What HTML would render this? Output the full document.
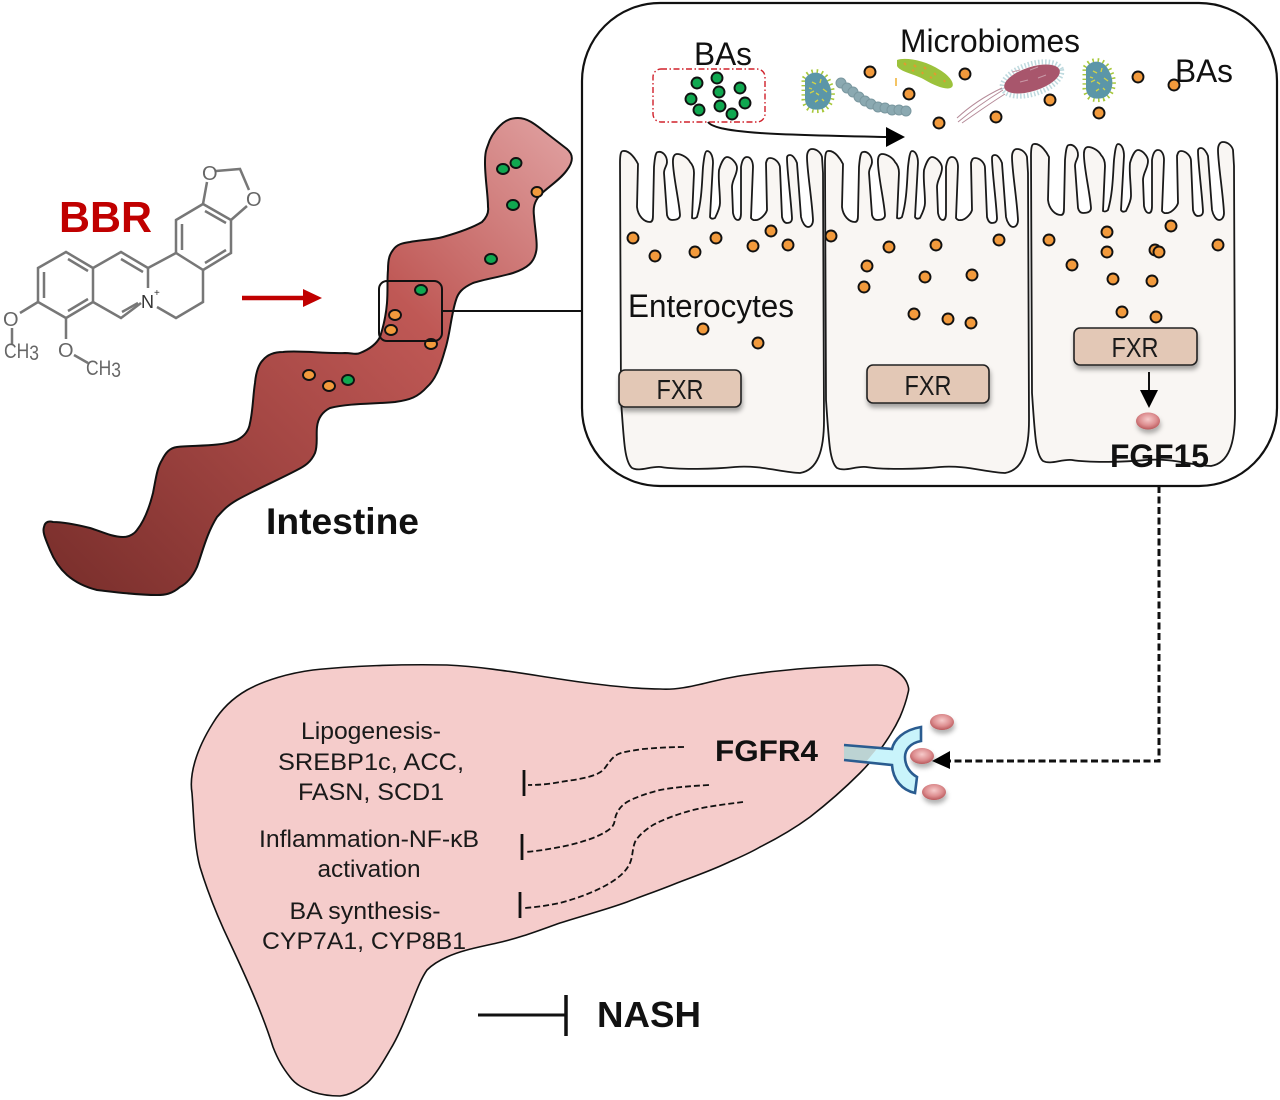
<!DOCTYPE html>
<html>
<head>
<meta charset="utf-8">
<title>BBR diagram</title>
<style>
html,body{margin:0;padding:0;background:#fff;width:1280px;height:1100px;overflow:hidden}
svg{display:block}
text{font-family:"Liberation Sans",sans-serif}
.b{font-weight:bold}
.liv{font-size:24px;fill:#1a1a1a;text-anchor:middle}
.fxr{font-size:28px;fill:#1a1a1a;text-anchor:middle}
.lab{font-size:32px;fill:#111}
.mol{fill:none;stroke:#777;stroke-width:2.5}
.molt{font-size:20px;fill:#666}
.cell{fill:#f9f6f3;stroke:#1a1a1a;stroke-width:1.8}
.o{fill:#f29a3c;stroke:#111;stroke-width:1.9}
.g{fill:#10a850;stroke:#111;stroke-width:1.9}
.fb{fill:#e3c8b6;stroke:#222;stroke-width:1.6;filter:url(#sh)}
.dash{fill:none;stroke:#111;stroke-width:1.8;stroke-dasharray:6 3}
.tb{fill:none;stroke:#111;stroke-width:2.8}
.pk{fill:url(#pink);filter:url(#sh2)}
</style>
</head>
<body>
<svg width="1280" height="1100" viewBox="0 0 1280 1100" xmlns="http://www.w3.org/2000/svg">
<defs>
<linearGradient id="intg" gradientUnits="userSpaceOnUse" x1="90" y1="600" x2="560" y2="130">
<stop offset="0" stop-color="#7c302d"/>
<stop offset=".35" stop-color="#a34643"/>
<stop offset=".65" stop-color="#bf5855"/>
<stop offset="1" stop-color="#df9e9e"/>
</linearGradient>
<radialGradient id="pink" cx=".5" cy=".4" r=".6">
<stop offset="0" stop-color="#f6caca"/>
<stop offset=".6" stop-color="#dd8e90"/>
<stop offset="1" stop-color="#b9595c"/>
</radialGradient>
<filter id="sh" x="-20%" y="-30%" width="140%" height="170%">
<feDropShadow dx="1" dy="4" stdDeviation="2.5" flood-color="#000" flood-opacity=".35"/>
</filter>
<filter id="sh2" x="-50%" y="-50%" width="200%" height="220%">
<feDropShadow dx="1" dy="4" stdDeviation="2.5" flood-color="#000" flood-opacity=".3"/>
</filter>
<path id="c" class="cell" d="M621 400 L620 163 C620 154 621 151 623 151 C630 150 636 160 638 164 L637 207 C638 216 644 222 650 222 C653 222 653 218 653 215 L654 167 C655 155 656 152 658 152 C662 151 667 155 667 162 C667 166 664 168 664 173 L667 215 C668 219 670 220 672 220 C676 220 680 219 680 215 C679 200 672 170 673 160 C673 156 675 154 677 154 C682 154 688 158 690 162 C693 165 694 168 694 173 L692 218 C694 219 696 218 697 217 C702 200 702 180 703 167 C704 158 705 151 707 151 C711 151 713 157 713 163 L710 217 C711 219 713 219 715 218 C717 214 720 208 720 203 C720 190 718 180 719 170 C721 163 724 157 727 157 C731 157 737 163 737 168 C737 175 732 180 732 187 L733 213 C734 218 736 220 738 220 C740 220 741 217 741 213 L741 167 C742 160 744 157 747 157 C751 157 753 162 753 167 L751 218 C753 221 755 220 757 220 C761 219 766 214 767 210 L766 163 C767 159 768 158 770 158 C775 158 780 163 780 168 L782 217 C783 221 785 223 787 223 C791 223 792 221 792 218 C791 200 787 170 787 158 C787 156 788 155 790 155 C793 155 796 160 797 163 L801 217 C802 222 805 227 808 227 C811 227 813 224 813 220 C812 200 807 170 807 157 C807 152 809 149 812 149 C817 149 821 153 822 157 L823 173 L824 420 C824 450 818 470 800 473 C780 472 760 465 735 467 C715 469 680 470 661 467 C650 466 640 472 632 468 C625 462 624 445 621 400 Z"/>
<path id="bs" d="M-13 -12 C-8 -21 5 -21 10 -9 C16 1 14 14 4 18 C-6 20 -12 17 -13 9 Z"/>
<g id="bac">
<use href="#bs" fill="none" stroke="#a7c83a" stroke-width="7" stroke-dasharray="1.4 3.2"/>
<use href="#bs" fill="#5b96a8"/>
<path d="M-6 -9l4 2M3 -12l-1 4M-8 2l4 -2M5 -2l4 3M-3 11l3 -2M6 10l-2 -2M-2 2l3 2M-9 -3l3 1" stroke="#cfd24a" stroke-width="1.4" fill="none"/>
</g>
</defs>

<!-- Molecule -->
<text x="59" y="232" class="b" font-size="44" fill="#c00000" textLength="93" lengthAdjust="spacingAndGlyphs">BBR</text>
<g class="mol">
<path d="M38 268L66 252L93 268L93 302L66 318L38 302Z"/>
<path d="M44 272L44 298M68 259L88 271M88 299L68 311"/>
<path d="M93 268L121 252L148 268L148 288M141 303L121 318L93 302"/>
<path d="M121 259L143 272M138 303L122 312"/>
<path d="M148 268L176 253L203 270L203 302L176 318L157 307"/>
<path d="M176 253L176 220L203 204L231 220L231 253L203 270"/>
<path d="M182 250L182 224M205 211L226 223M226 250L205 263"/>
<path d="M203 204L207 182M216 171L240 169L249 190M247 206L231 220"/>
<path d="M38 302L20 313M66 318L66 339M12 328L12 344M74 355L88 363"/>
</g>
<text x="202" y="180" class="molt">O</text>
<text x="246" y="206" class="molt">O</text>
<text x="141" y="308" font-size="18" fill="#333">N</text>
<text x="154" y="296" font-size="10" fill="#333">+</text>
<text x="3" y="326" class="molt">O</text>
<text x="58" y="357" class="molt">O</text>
<text x="4" y="358" font-size="21" fill="#666" textLength="35" lengthAdjust="spacingAndGlyphs">CH<tspan dy="2">3</tspan></text>
<text x="86" y="375" font-size="21" fill="#666" textLength="35" lengthAdjust="spacingAndGlyphs">CH<tspan dy="2">3</tspan></text>
<path d="M242 298H304" stroke="#c00000" stroke-width="4.5"/>
<path d="M303 289L322 298L303 307Z" fill="#c00000"/>

<!-- Intestine -->
<path d="M518 118 C528 118 536 125 545 132 L567 149 C574 155 573 162 567 170 C560 180 548 187 540 195 C534 202 533 208 534 216 C535 230 538 245 536 252 C534 262 528 268 513 273 C500 277 485 279 473 283 C462 288 458 293 456 300 C451 315 450 335 445 350 C440 368 435 380 427 387 C418 397 410 400 395 402 C375 404 350 403 330 408 C322 412 318 418 317 427 C316 436 318 445 315 453 C311 462 305 466 297 470 C278 480 255 490 237 500 C225 507 222 512 217 517 C207 533 203 550 197 567 C192 578 186 584 180 587 C172 594 165 595 157 595 C135 595 115 592 97 590 C85 587 75 582 67 575 C57 566 52 555 50 550 C46 540 42 532 44 527 C45 521 50 521 53 522 C65 522 78 525 90 528 C100 531 112 537 123 537 C130 537 135 533 137 530 C145 520 150 505 153 493 C156 478 157 468 162 460 C166 452 170 448 177 447 C195 445 220 447 237 440 C245 436 249 430 250 423 C253 410 253 395 255 383 C256 372 259 364 263 360 C268 354 275 352 283 352 C300 350 325 354 345 353 C352 353 356 355 360 353 C370 349 377 343 380 337 C384 325 386 315 387 303 C388 290 387 280 388 270 C388 258 390 254 393 250 C397 244 403 243 410 242 C420 240 432 240 443 237 C457 233 472 228 482 222 C486 218 489 213 488 207 C488 195 485 178 485 163 C485 153 486 150 488 145 C491 135 497 128 503 123 C508 119 513 118 518 118 Z" fill="url(#intg)" stroke="#111" stroke-width="2"/>
<g class="g"><ellipse cx="503" cy="169" rx="6" ry="5"/><ellipse cx="516" cy="163" rx="5.5" ry="5"/><ellipse cx="513" cy="205" rx="6" ry="5"/><ellipse cx="491" cy="259" rx="6" ry="5"/><ellipse cx="421" cy="290" rx="6" ry="5"/><ellipse cx="348" cy="380" rx="6" ry="5"/></g>
<g class="o"><ellipse cx="537" cy="192" rx="5.5" ry="5"/><ellipse cx="395" cy="315" rx="6" ry="5"/><ellipse cx="391" cy="330" rx="6" ry="5"/><ellipse cx="431" cy="344" rx="6" ry="5"/><ellipse cx="309" cy="375" rx="6" ry="5"/><ellipse cx="329" cy="386" rx="6" ry="5"/></g>
<rect x="379" y="281" width="63" height="60" rx="8" fill="none" stroke="#111" stroke-width="2"/>
<path d="M442 311H582" stroke="#111" stroke-width="2"/>
<text x="266" y="534" class="b" font-size="37" fill="#111" textLength="153" lengthAdjust="spacingAndGlyphs">Intestine</text>

<!-- Main rounded box -->
<rect x="582" y="3" width="695" height="483" rx="78" fill="#fff" stroke="#111" stroke-width="2.2"/>

<!-- Cells -->
<use href="#c"/>
<use href="#c" transform="translate(205,0)"/>
<use href="#c" transform="translate(411,-7)"/>

<!-- Bacteria -->
<use href="#bac" transform="translate(818,91)"/>
<use href="#bac" transform="translate(1099,80)"/>
<g fill="#8ba9b1" stroke="#7a979f" stroke-width="1">
<circle cx="841" cy="83" r="5"/><circle cx="847" cy="88" r="5"/><circle cx="853" cy="92" r="5"/><circle cx="859" cy="97" r="5"/><circle cx="865" cy="101" r="5"/><circle cx="871" cy="104" r="5"/><circle cx="878" cy="107" r="5"/><circle cx="885" cy="108" r="5"/><circle cx="892" cy="110" r="5"/><circle cx="899" cy="110" r="5"/><circle cx="906" cy="111" r="5"/>
</g>
<path d="M897 60 C905 57 925 60 940 70 C950 76 955 84 952 87 C948 91 935 86 925 80 C915 74 900 72 897 66 Z" fill="#9cc23c"/>
<path d="M904 63l2 2M914 65l2 2M924 67l2 2M934 73l2 2M944 80l1 2M912 70l2 1M930 77l2 1M922 72l1 2" stroke="#e09a30" stroke-width="2" fill="none"/>
<ellipse cx="1032" cy="79" rx="31" ry="15" transform="rotate(-18 1032 79)" fill="none" stroke="#bfdadf" stroke-width="5" stroke-dasharray="1.5 2"/>
<ellipse cx="1032" cy="79" rx="29" ry="12" transform="rotate(-18 1032 79)" fill="#a8566c"/>
<path d="M1012 72l8 -2M1030 70l8 -3M1020 82l8 -2M1038 78l8 -3" stroke="#c99aa8" stroke-width="1" fill="none"/>
<path d="M1003 90 C990 98 975 108 958 122 M1005 94 C992 102 978 112 962 123 M1002 88 C985 96 970 106 957 118" fill="none" stroke="#b58a98" stroke-width="1"/>
<path d="M896 78v8" stroke="#f0b030" stroke-width="1.5"/>

<!-- BAs box -->
<rect x="653" y="69" width="112" height="53" rx="8" fill="none" stroke="#d0202a" stroke-width="1.4" stroke-dasharray="6 2.5 1.5 2.5"/>
<g class="g"><circle cx="697" cy="83" r="5.5"/><circle cx="717" cy="78" r="5.5"/><circle cx="740" cy="88" r="5.5"/><circle cx="719" cy="92" r="5.5"/><circle cx="691" cy="99" r="5.5"/><circle cx="745" cy="103" r="5.5"/><circle cx="720" cy="106" r="5.5"/><circle cx="699" cy="110" r="5.5"/><circle cx="732" cy="114" r="5.5"/></g>
<path d="M708 122 C716 134 790 135 886 137" fill="none" stroke="#111" stroke-width="2"/>
<path d="M886 127L905 137L886 147Z" fill="#000"/>

<!-- Orange dots -->
<g class="o">
<circle cx="870" cy="72" r="5.5"/><circle cx="965" cy="74" r="5.5"/><circle cx="909" cy="94" r="5.5"/><circle cx="1138" cy="77" r="5.5"/><circle cx="1174" cy="85" r="5.5"/><circle cx="1050" cy="100" r="5.5"/><circle cx="996" cy="117" r="5.5"/><circle cx="1099" cy="113" r="5.5"/><circle cx="939" cy="123" r="5.5"/>
<circle cx="633" cy="238" r="5.5"/><circle cx="655" cy="256" r="5.5"/><circle cx="695" cy="252" r="5.5"/><circle cx="716" cy="238" r="5.5"/><circle cx="753" cy="246" r="5.5"/><circle cx="771" cy="231" r="5.5"/><circle cx="788" cy="245" r="5.5"/><circle cx="703" cy="329" r="5.5"/><circle cx="758" cy="343" r="5.5"/>
<circle cx="831" cy="236" r="5.5"/><circle cx="889" cy="247" r="5.5"/><circle cx="936" cy="245" r="5.5"/><circle cx="999" cy="240" r="5.5"/><circle cx="867" cy="266" r="5.5"/><circle cx="864" cy="287" r="5.5"/><circle cx="925" cy="277" r="5.5"/><circle cx="972" cy="275" r="5.5"/><circle cx="914" cy="314" r="5.5"/><circle cx="948" cy="319" r="5.5"/><circle cx="971" cy="323" r="5.5"/>
<circle cx="1049" cy="240" r="5.5"/><circle cx="1107" cy="232" r="5.5"/><circle cx="1107" cy="252" r="5.5"/><circle cx="1155" cy="250" r="5.5"/><circle cx="1159" cy="252" r="5.5"/><circle cx="1171" cy="226" r="5.5"/><circle cx="1218" cy="245" r="5.5"/><circle cx="1072" cy="265" r="5.5"/><circle cx="1113" cy="279" r="5.5"/><circle cx="1152" cy="281" r="5.5"/><circle cx="1122" cy="312" r="5.5"/><circle cx="1156" cy="317" r="5.5"/>
</g>

<!-- Labels in box -->
<text x="694" y="65" class="lab" textLength="58" lengthAdjust="spacingAndGlyphs">BAs</text>
<text x="900" y="52" class="lab" textLength="180" lengthAdjust="spacingAndGlyphs">Microbiomes</text>
<text x="1175" y="82" class="lab" textLength="58" lengthAdjust="spacingAndGlyphs">BAs</text>
<text x="628" y="317" class="lab" textLength="166" lengthAdjust="spacingAndGlyphs">Enterocytes</text>

<!-- FXR -->
<rect class="fb" x="619" y="370" width="122" height="37" rx="6"/>
<rect class="fb" x="867" y="365" width="122" height="38" rx="6"/>
<rect class="fb" x="1074" y="328" width="123" height="37" rx="6"/>
<text x="680" y="399" class="fxr" textLength="47" lengthAdjust="spacingAndGlyphs">FXR</text>
<text x="928" y="395" class="fxr" textLength="47" lengthAdjust="spacingAndGlyphs">FXR</text>
<text x="1135" y="357" class="fxr" textLength="47" lengthAdjust="spacingAndGlyphs">FXR</text>
<path d="M1149 372V394" stroke="#111" stroke-width="2"/>
<path d="M1140 390H1158L1149 408Z" fill="#000"/>
<ellipse class="pk" cx="1148" cy="421" rx="12" ry="8.5"/>
<text x="1110" y="467" class="b" font-size="32" fill="#111" textLength="99" lengthAdjust="spacingAndGlyphs">FGF15</text>

<!-- Dashed connector -->
<path d="M1159 486V761H948" fill="none" stroke="#111" stroke-width="3" stroke-dasharray="7 3.5"/>

<!-- Liver -->
<path d="M192 793 C189 775 196 750 213 723 C222 708 233 698 247 690 C265 680 290 673 313 670 C350 666 400 664 447 665 C490 667 530 675 580 682 C610 686 640 689 660 689 C675 690 690 687 710 682 C730 677 745 675 760 673 C785 670 805 668 827 667 C845 666 865 665 877 665 C885 665 889 667 893 669 C900 673 905 678 907 683 C909 688 909 690 908 693 C906 702 903 710 900 717 C894 730 887 740 880 750 C873 759 867 766 860 773 C845 788 828 803 810 817 C795 828 778 838 760 847 C750 853 738 858 727 863 C710 871 695 876 677 883 C660 890 645 895 627 902 C605 910 585 915 560 923 C540 930 520 938 497 943 C480 947 462 950 447 957 C438 961 432 965 427 970 C420 980 415 995 410 1007 C404 1022 398 1037 390 1050 C383 1062 375 1076 367 1083 C358 1090 350 1095 340 1096 C330 1096 322 1095 313 1092 C303 1088 296 1085 290 1077 C283 1068 278 1060 273 1047 C262 1012 245 975 230 943 C218 918 208 893 200 867 C194 845 194 818 192 793 Z" fill="#f5cccb" stroke="#111" stroke-width="1.6"/>

<!-- Receptor -->
<path d="M844 745L878 747.5L866 762L844 760Z" fill="#bcd3d3"/>
<path d="M878 747.5L892 749 C894 740 903 730 921 727 L921 741 C910 743 905 750 905 757 C905 766 910 773 917 777 L915 793 C902 790 893 780 892 765 L866 762Z" fill="#c9f4fb"/>
<path d="M844 745L892 749 C894 740 903 730 921 727 L921 741 C910 743 905 750 905 757 C905 766 910 773 917 777 L915 793 C902 790 893 780 892 765 L844 760" fill="none" stroke="#2a5c90" stroke-width="2.6"/>
<ellipse class="pk" cx="942" cy="722" rx="12" ry="8"/>
<ellipse class="pk" cx="922" cy="756" rx="12" ry="8"/>
<ellipse class="pk" cx="934" cy="792" rx="12" ry="8"/>
<path d="M950 751V769L932 761Z" fill="#000"/>

<!-- Liver text -->
<text x="371" y="739" class="liv" textLength="140" lengthAdjust="spacingAndGlyphs">Lipogenesis-</text>
<text x="371" y="770" class="liv" textLength="186" lengthAdjust="spacingAndGlyphs">SREBP1c, ACC,</text>
<text x="371" y="800" class="liv" textLength="146" lengthAdjust="spacingAndGlyphs">FASN, SCD1</text>
<text x="369" y="847" class="liv" textLength="220" lengthAdjust="spacingAndGlyphs">Inflammation-NF-κB</text>
<text x="369" y="877" class="liv" textLength="103" lengthAdjust="spacingAndGlyphs">activation</text>
<text x="365" y="919" class="liv" textLength="151" lengthAdjust="spacingAndGlyphs">BA synthesis-</text>
<text x="364" y="949" class="liv" textLength="204" lengthAdjust="spacingAndGlyphs">CYP7A1, CYP8B1</text>
<text x="715" y="761" class="b" font-size="30" fill="#111" textLength="103" lengthAdjust="spacingAndGlyphs">FGFR4</text>

<!-- Inhibition curves -->
<path class="dash" d="M684 747 C668 747 655 748 643 749 C630 751 620 752 615 756 C610 760 610 762 607 765 C604 770 601 772 597 774 C585 779 572 780 560 782 C550 784 540 785 528 785"/>
<path class="dash" d="M709 785 C692 786 676 787 660 790 C648 793 636 797 627 802 C621 806 619 809 617 813 C614 818 616 822 612 827 C607 832 600 835 593 838 C582 842 571 845 560 847 C550 849 538 851 525 852"/>
<path class="dash" d="M743 802 C727 804 710 806 693 810 C678 814 664 819 653 825 C645 830 638 836 635 842 C632 850 633 856 630 863 C626 872 618 878 610 883 C595 892 578 898 560 903 C550 905 538 907 525 908"/>
<path class="tb" d="M524 770V796M522 834V860M520 892V918"/>

<!-- NASH -->
<path d="M478 1015H566" stroke="#111" stroke-width="3"/>
<path d="M566 995V1036" stroke="#111" stroke-width="3.5"/>
<text x="597" y="1027" class="b" font-size="36" fill="#111" textLength="104" lengthAdjust="spacingAndGlyphs">NASH</text>
</svg>
</body>
</html>
